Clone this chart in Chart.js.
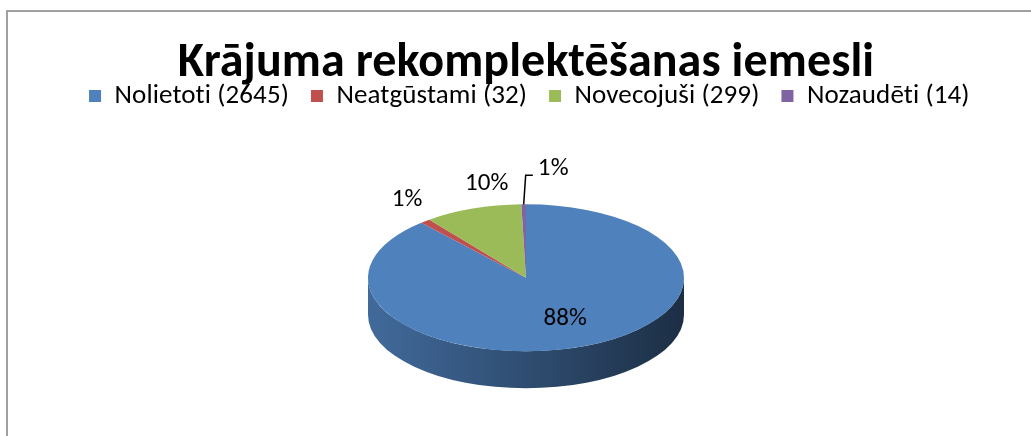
<!DOCTYPE html>
<html>
<head>
<meta charset="utf-8">
<script src="https://cdn.jsdelivr.net/npm/chart.js@4"></script>
<style>
  html, body { margin: 0; padding: 0; background: #fff; }
  #wrap { position: relative; width: 1031px; height: 436px; overflow: hidden; }
  #frame { position: absolute; left: 6px; top: 10px; width: 1100px; height: 500px; border: 2px solid #a0a0a0; box-sizing: border-box; }
  canvas { position: absolute; left: 0; top: 0; }
</style>
</head>
<body>
<div id="wrap"><div id="frame"></div><canvas id="pie" width="1031" height="436"></canvas></div>
<script>
const titleText = "Krājuma rekomplektēšanas iemesli";
const categories = ["Nolietoti", "Neatgūstami", "Novecojuši", "Nozaudēti"];
const counts = [2645, 32, 299, 14];
const colors = ["#4F81BD", "#C0504D", "#9BBB59", "#8064A2"];

const FONT = "Carlito, 'Liberation Sans Narrow', 'Open Sans', sans-serif";
const tilt = 0.465;  // vertical squash of the pie
const depth = 37;    // thickness of the side, px

Chart.defaults.font.family = FONT;
Chart.defaults.color = "#000";

function shade(hex, f) {
  const n = parseInt(hex.slice(1), 16);
  const r = Math.round(((n >> 16) & 255) * f);
  const g = Math.round(((n >> 8) & 255) * f);
  const b = Math.round((n & 255) * f);
  return `rgb(${r},${g},${b})`;
}

// squash the pie into an ellipse and paint the front side under it
const pie3d = {
  id: "pie3d",
  beforeDraw(chart) {
    chart.ctx.letterSpacing = "0.1px"; // no "ti" ligature
  },
  beforeDatasetsDraw(chart) {
    const ctx = chart.ctx;
    const arcs = chart.getDatasetMeta(0).data;
    const cx = arcs[0].x, cy = arcs[0].y;
    ctx.save();
    ctx.translate(cx, cy);
    ctx.scale(1, tilt);
    ctx.translate(-cx, -cy);
    const d = depth / tilt;
    arcs.forEach((arc, i) => {
      const r = arc.outerRadius;
      for (let k = -1; k <= 1; k++) {
        const lo = Math.max(arc.startAngle, 2 * Math.PI * k);
        const hi = Math.min(arc.endAngle, 2 * Math.PI * k + Math.PI);
        if (hi <= lo) continue;
        const g = ctx.createLinearGradient(cx - r, 0, cx + r, 0);
        g.addColorStop(0, shade(colors[i], 0.82));
        g.addColorStop(0.5, shade(colors[i], 0.6));
        g.addColorStop(1, shade(colors[i], 0.36));
        ctx.beginPath();
        ctx.arc(cx, cy, r, lo, hi);
        ctx.arc(cx, cy + d, r, hi, lo, true);
        ctx.closePath();
        ctx.fillStyle = g;
        ctx.fill();
      }
    });
  },
  afterDatasetsDraw(chart, args, opts) {
    const ctx = chart.ctx;
    ctx.restore();

    // percentage labels
    const arcs = chart.getDatasetMeta(0).data;
    const total = counts.reduce((a, b) => a + b, 0);
    ctx.save();
    ctx.font = `25px ${FONT}`;
    ctx.fillStyle = "#000";
    ctx.strokeStyle = "#000";
    ctx.lineWidth = 1.5;
    ctx.textBaseline = "middle";
    ctx.textAlign = "center";
    arcs.forEach((arc, i) => {
      const share = counts[i] / total;
      const txt = Math.max(1, Math.round(share * 100)) + "%";
      const mid = (arc.startAngle + arc.endAngle) / 2;
      const r = arc.outerRadius;
      const c = Math.cos(mid), s = Math.sin(mid);
      if (share > 0.5) {
        ctx.fillText(txt, arc.x + r * 0.7 * c, arc.y + r * 0.6 * tilt * s);
        return;
      }
      const ex = arc.x + r * c, ey = arc.y + r * tilt * s;
      const shift = opts.shift[i];
      const lx = ex + 30 * c + shift[0], ly = ey + 30 * s + shift[1];
      ctx.fillText(txt, lx, ly);
      if (opts.leader[i]) {
        const w = ctx.measureText(txt).width;
        ctx.beginPath();
        ctx.moveTo(ex, ey);
        ctx.lineTo(ex + 2, ly + 7);
        ctx.lineTo(lx - w / 2 - 5, ly + 7);
        ctx.stroke();
      }
    });
    ctx.restore();
  }
};

new Chart(document.getElementById("pie"), {
  type: "pie",
  data: {
    labels: categories.map((c, i) => `${c} (${counts[i]})`),
    datasets: [{
      data: counts,
      backgroundColor: colors,
      borderWidth: 0,
      radius: 158
    }]
  },
  options: {
    responsive: false,
    animation: false,
    layout: { padding: { left: 21, right: 0, top: 0, bottom: 0 } },
    plugins: {
      title: {
        display: true,
        text: titleText,
        font: { size: 48, weight: "bold" },
        color: "#000",
        padding: { top: 35, bottom: -32 }
      },
      legend: {
        position: "top",
        labels: {
          boxWidth: 12,
          boxHeight: 12,
          padding: 22,
          font: { size: 27 },
          color: "#000"
        }
      },
      tooltip: { enabled: false },
      pie3d: {
        shift: [[2, 1], [1, 2], [24, 3], [30, -6]],
        leader: [false, false, false, true]
      }
    }
  },
  plugins: [pie3d]
});
</script>
</body>
</html>
